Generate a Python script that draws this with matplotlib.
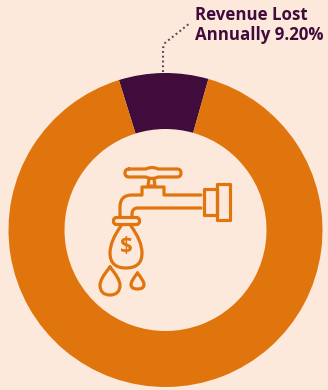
import numpy as np
import matplotlib
matplotlib.use("Agg")
import matplotlib.pyplot as plt
from matplotlib.path import Path
from matplotlib.patches import PathPatch, FancyBboxPatch, Rectangle

# Share of annual revenue
categories = ["Revenue Lost Annually", "Revenue Retained"]
shares = [9.2, 90.8]
label_text = "Revenue Lost\nAnnually 9.20%"

BG = "#fde8dc"
ORANGE = "#e0750e"
PURPLE = "#3f0c3b"
W, H = 328, 390

fig = plt.figure(figsize=(W / 100, H / 100), dpi=100, facecolor=BG)

# Donut, with the lost slice sitting at twelve o'clock
ax = fig.add_axes([0, 0, 1, 1])
ax.pie(shares, colors=[PURPLE, ORANGE], radius=157, center=(165.5, H - 230),
       startangle=90 - shares[0] * 3.6 / 2 + 0.7, frame=True,
       wedgeprops=dict(width=56, linewidth=0))
ax.set_xlim(0, W)
ax.set_ylim(0, H)
ax.axis("off")

# Overlay in pixel coordinates for the faucet icon and the callout
ov = fig.add_axes([0, 0, 1, 1])
ov.set_xlim(0, W)
ov.set_ylim(H, 0)
ov.axis("off")
ov.patch.set_alpha(0)

LW = 2.3
style = dict(fill=False, edgecolor=ORANGE, linewidth=LW, joinstyle="round", capstyle="round")


def stroke(verts, codes):
    ov.add_patch(PathPatch(Path(verts, codes), **style))


M, L, C = Path.MOVETO, Path.LINETO, Path.CURVE3

# Handle with its central boss, and the valve stem
stroke([(129, 169), (146, 169), (152, 166), (158, 169), (177, 169), (181, 169), (181, 173),
        (181, 177), (177, 177), (158, 177), (152, 180), (146, 177), (129, 177),
        (125, 177), (125, 173), (125, 169), (129, 169)],
       [M, L, C, C, L, C, C, C, C, L, C, C, L, C, C, C, C])
stroke([(149, 179), (148, 186), (155, 186), (154, 179)], [M, L, L, L])

# Spout outline
stroke([(201, 195), (164, 195), (164, 187), (142, 187), (142, 195), (132, 195),
        (120, 195), (120, 207), (120, 217)],
       [M, L, L, L, L, L, C, C, L])
stroke([(201, 208), (138, 208), (132, 208), (132, 214), (132, 217)],
       [M, L, C, C, L])

# Coupling at the wall end
ov.add_patch(Rectangle((204, 189), 13, 26, **style))
ov.add_patch(Rectangle((217, 184), 13, 36, **style))

# Collar under the spout
ov.add_patch(FancyBboxPatch((115, 219), 23, 4, boxstyle="round,pad=1.5,rounding_size=3", **style))

# Money bag hanging from the collar
stroke([(121, 226), (110, 241), (110, 253), (110, 268), (126, 268), (142, 268),
        (142, 253), (142, 241), (131, 226)],
       [M, C, C, C, C, C, C, C, C])
ov.text(126, 247, "$", color=ORANGE, fontsize=16, fontweight="bold",
        family="Open Sans", ha="center", va="center")

# Falling drops
stroke([(110, 267), (100, 279), (100, 285), (100, 295), (110, 295), (120, 295),
        (120, 285), (120, 279), (110, 267)],
       [M, C, C, C, C, C, C, C, C])
stroke([(137.5, 273), (131, 281), (131, 284.5), (131, 289), (137.5, 289), (144, 289),
        (144, 284.5), (144, 281), (137.5, 273)],
       [M, C, C, C, C, C, C, C, C])

# Dotted leader from the slice to its label
ov.plot([163, 163, 165, 190], [72, 48, 43, 23], color="#5a4a58", linewidth=1.5,
        linestyle=(0, (0.9, 1.4)))

ov.text(195, 25, label_text, color=PURPLE, fontsize=12.2, fontweight="bold",
        family="Open Sans", ha="left", va="center", linespacing=1.12)

fig.savefig("out.png", dpi=100, facecolor=BG)
